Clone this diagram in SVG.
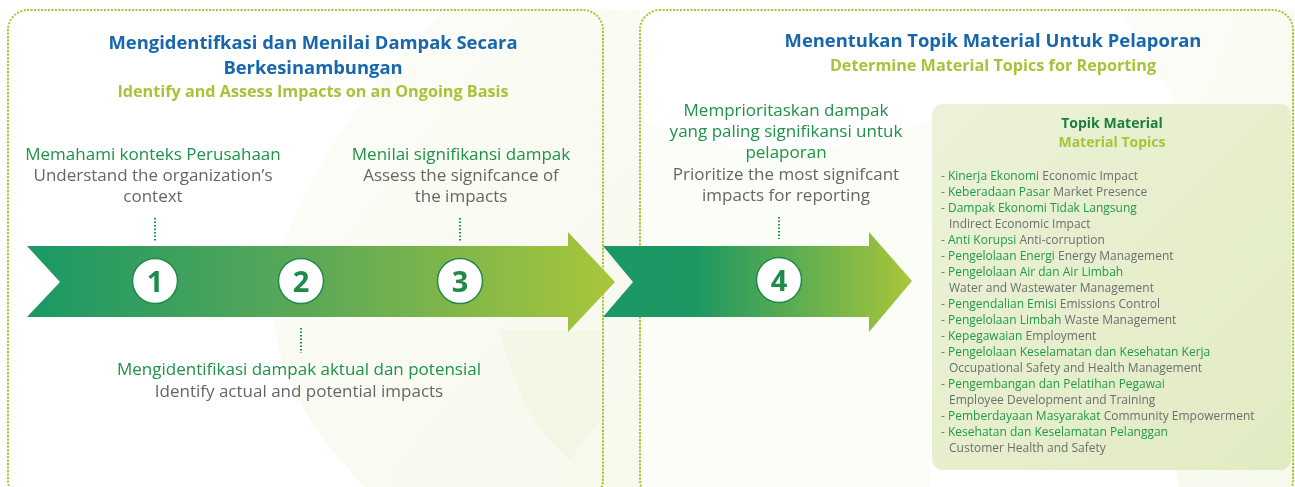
<svg xmlns="http://www.w3.org/2000/svg" width="1295" height="487" viewBox="0 0 1295 487">
<defs>
<linearGradient id="g1" x1="27" y1="0" x2="615" y2="0" gradientUnits="userSpaceOnUse">
<stop offset="0" stop-color="#1a9865"/>
<stop offset="0.5" stop-color="#5fa956"/>
<stop offset="1" stop-color="#a9c63a"/>
</linearGradient>
<linearGradient id="g2" x1="603" y1="0" x2="912" y2="0" gradientUnits="userSpaceOnUse">
<stop offset="0" stop-color="#1a9865"/>
<stop offset="0.3" stop-color="#1d9863"/>
<stop offset="1" stop-color="#a9c63a"/>
</linearGradient>
<linearGradient id="gbox" x1="0" y1="0" x2="1" y2="1">
<stop offset="0" stop-color="#ecf2d8"/>
<stop offset="1" stop-color="#e1ebc2"/>
</linearGradient>
<linearGradient id="gbg" x1="0" y1="0" x2="1" y2="1">
<stop offset="0" stop-color="#fafcf3"/>
<stop offset="1" stop-color="#eef4dc"/>
</linearGradient>
</defs>
<style>
.panel{fill:none;stroke:#a8c83a;stroke-width:2;stroke-dasharray:0.1 3.4;stroke-linecap:square}
.title{font-family:"Open Sans","Noto Sans",sans-serif;font-weight:700;font-size:18.4px;fill:#1866ad;text-anchor:middle}
.sub{font-family:"Open Sans","Noto Sans",sans-serif;font-weight:700;font-size:16.2px;fill:#a6c439;text-anchor:middle}
.gt{font-family:"Open Sans","Noto Sans",sans-serif;font-size:17px;fill:#1f9149;text-anchor:middle}
.et{font-family:"Open Sans","Noto Sans",sans-serif;font-size:17px;fill:#666666;text-anchor:middle}
.num{font-family:"Open Sans","Noto Sans",sans-serif;font-weight:700;font-size:29px;fill:#1f8a4a;text-anchor:middle}
.circ{fill:#ffffff;stroke:#1f8a4a;stroke-width:1.5}
.dot{fill:none;stroke:#1f8a4a;stroke-width:2;stroke-dasharray:1.5 2}
.li{font-family:"Open Sans","Noto Sans",sans-serif;font-size:12px;fill:#6d6e71}
.lg{fill:#1f9a4c}
.bt{font-family:"Open Sans","Noto Sans",sans-serif;font-weight:700;font-size:14px;text-anchor:middle}
</style>
<rect width="1295" height="487" fill="#ffffff"/>
<g id="background" opacity="0.9">
<path d="M445 10 L640 10 L640 487 L365 487 Q240 360 285 240 Q330 120 445 10 Z" fill="url(#gbg)" opacity="0.6"/>
<path d="M500 330 L600 330 L600 420 L570 460 Q520 420 500 330 Z" fill="#eef4dc" opacity="0.6"/>
<path d="M1120 10 L1295 10 L1295 487 L1180 487 Q1120 300 1180 110 Z" fill="url(#gbg)" opacity="0.6"/>
<path d="M640 120 Q780 180 930 120 L930 487 L640 487 Z" fill="#f8fbef" opacity="0.5"/>
</g>
<g id="panel-left">
<rect class="panel" x="8" y="10" width="595" height="490" rx="20"/>
<text class="title" x="313" y="49">Mengidentifkasi dan Menilai Dampak Secara</text>
<text class="title" x="313" y="74">Berkesinambungan</text>
<text class="sub" x="313" y="97">Identify and Assess Impacts on an Ongoing Basis</text>
</g>
<g id="panel-right">
<rect class="panel" x="640" y="10" width="653" height="490" rx="20"/>
<text class="title" x="993" y="47">Menentukan Topik Material Untuk Pelaporan</text>
<text class="sub" x="993" y="71">Determine Material Topics for Reporting</text>
</g>
<g id="arrow-1">
<path d="M27 246 L568 246 L568 232 L615 282 L568 332 L568 317 L27 317 L60 282 Z" fill="url(#g1)"/>
</g>
<g id="arrow-2">
<path d="M603 246 L869 246 L869 232 L912 281 L869 332 L869 317 L603 317 L633 282 Z" fill="url(#g2)"/>
</g>
<g id="connectors">
<line class="dot" x1="155" y1="218" x2="155" y2="241"/>
<line class="dot" x1="460" y1="218" x2="460" y2="241"/>
<line class="dot" x1="301" y1="328" x2="301" y2="353"/>
<line class="dot" x1="779" y1="217" x2="779" y2="239"/>
</g>
<g id="step-1">
<circle class="circ" cx="155" cy="281" r="22.5"/>
<text class="num" x="155" y="291.5">1</text>
<text class="gt" x="153" y="160">Memahami konteks Perusahaan</text>
<text class="et" x="153" y="181">Understand the organization’s</text>
<text class="et" x="153" y="202">context</text>
</g>
<g id="step-2">
<circle class="circ" cx="301" cy="281" r="22.5"/>
<text class="num" x="301" y="291.5">2</text>
<text class="gt" x="299" y="375">Mengidentifikasi dampak aktual dan potensial</text>
<text class="et" x="299" y="397">Identify actual and potential impacts</text>
</g>
<g id="step-3">
<circle class="circ" cx="460" cy="281" r="22.5"/>
<text class="num" x="460" y="291.5">3</text>
<text class="gt" x="461" y="160">Menilai signifikansi dampak</text>
<text class="et" x="461" y="181">Assess the signifcance of</text>
<text class="et" x="461" y="202">the impacts</text>
</g>
<g id="step-4">
<circle class="circ" cx="779" cy="280" r="22.5"/>
<text class="num" x="779" y="290.5">4</text>
<text class="gt" x="786" y="116">Memprioritaskan dampak</text>
<text class="gt" x="786" y="137">yang paling signifikansi untuk</text>
<text class="gt" x="786" y="158">pelaporan</text>
<text class="et" x="786" y="180">Prioritize the most signifcant</text>
<text class="et" x="786" y="201">impacts for reporting</text>
</g>
<g id="material-topics">
<rect x="932" y="104" width="359" height="366" rx="11" fill="url(#gbox)"/>
<text class="bt" x="1112" y="128" fill="#1a7f3e">Topik Material</text>
<text class="bt" x="1112" y="147" fill="#a6c439">Material Topics</text>
<text class="li" x="941" y="180"><tspan class="lg">- Kinerja Ekonomi</tspan> Economic Impact</text>
<text class="li" x="941" y="196"><tspan class="lg">- Keberadaan Pasar</tspan> Market Presence</text>
<text class="li" x="941" y="212"><tspan class="lg">- Dampak Ekonomi Tidak Langsung</tspan></text>
<text class="li" x="949" y="228">Indirect Economic Impact</text>
<text class="li" x="941" y="244"><tspan class="lg">- Anti Korupsi</tspan> Anti-corruption</text>
<text class="li" x="941" y="260"><tspan class="lg">- Pengelolaan Energi</tspan> Energy Management</text>
<text class="li" x="941" y="276"><tspan class="lg">- Pengelolaan Air dan Air Limbah</tspan></text>
<text class="li" x="949" y="292">Water and Wastewater Management</text>
<text class="li" x="941" y="308"><tspan class="lg">- Pengendalian Emisi</tspan> Emissions Control</text>
<text class="li" x="941" y="324"><tspan class="lg">- Pengelolaan Limbah</tspan> Waste Management</text>
<text class="li" x="941" y="340"><tspan class="lg">- Kepegawaian</tspan> Employment</text>
<text class="li" x="941" y="356"><tspan class="lg">- Pengelolaan Keselamatan dan Kesehatan Kerja</tspan></text>
<text class="li" x="949" y="372">Occupational Safety and Health Management</text>
<text class="li" x="941" y="388"><tspan class="lg">- Pengembangan dan Pelatihan Pegawai</tspan></text>
<text class="li" x="949" y="404">Employee Development and Training</text>
<text class="li" x="941" y="420"><tspan class="lg">- Pemberdayaan Masyarakat</tspan> Community Empowerment</text>
<text class="li" x="941" y="436"><tspan class="lg">- Kesehatan dan Keselamatan Pelanggan</tspan></text>
<text class="li" x="949" y="452">Customer Health and Safety</text>
</g>
</svg>
